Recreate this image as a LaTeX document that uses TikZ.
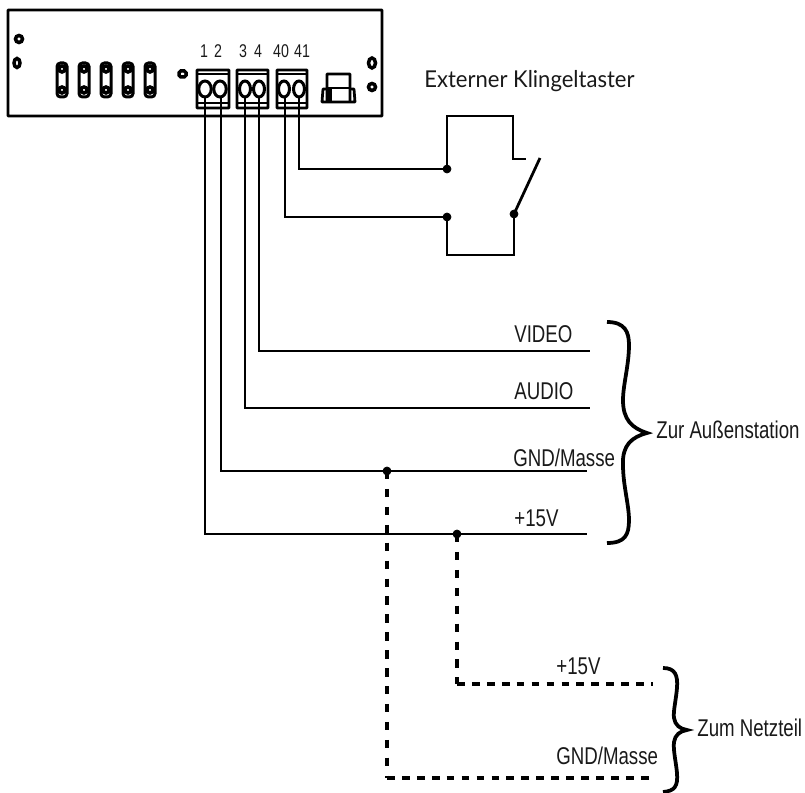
\documentclass[tikz,border=0pt]{standalone}
\usepackage{fontspec}
\setmainfont[FakeStretch=0.77]{Liberation Sans}
\newfontfamily\titlefont[FakeStretch=0.95]{Lato}
\tikzset{
  wire/.style={line width=0.55mm},
  dashup/.style={line width=0.66mm, dash pattern=on 4.8pt off 5.4pt},
  dashacross/.style={line width=0.66mm, dash pattern=on 4.4pt off 4.1pt},
  bracket/.style={line width=0.75mm},
  part/.style={line width=0.55mm, rounded corners=0.3pt},
  label/.style={anchor=base west, inner sep=0pt, font=\fontsize{13.8pt}{13.8pt}\selectfont, text=black!90},
  pin/.style={anchor=base, inner sep=0pt, font=\fontsize{10.5pt}{10.5pt}\selectfont, text=black!90}
}

\begin{document}
\begin{tikzpicture}[x=0.02cm, y=-0.02cm]
\useasboundingbox (0,0) rectangle (805,793);

\coordinate (T1) at (205,97);
\coordinate (T2) at (221,97);
\coordinate (T3) at (245,97);
\coordinate (T4) at (259,97);
\coordinate (T40) at (285,97);
\coordinate (T41) at (299,97);

\coordinate (K1) at (299,169);
\coordinate (K2) at (447,169);
\coordinate (K3) at (285,217);
\coordinate (K4) at (447,217);
\coordinate (K5) at (514,214);
\coordinate (K6) at (540,158);

\coordinate (V1) at (259,351);
\coordinate (V2) at (590,351);
\coordinate (A1) at (245,408);
\coordinate (A2) at (590,408);
\coordinate (G1) at (221,471);
\coordinate (G2) at (587,471);
\coordinate (P1) at (205,534);
\coordinate (P2) at (587,534);

\coordinate (G3) at (387,471);
\coordinate (G4) at (387,778);
\coordinate (G5) at (653,778);
\coordinate (P3) at (457,534);
\coordinate (P4) at (457,684);
\coordinate (P5) at (653,684);

% housing
\draw[part] (8,10) rectangle (382,116);
\draw[line width=0.7mm] (19,39) circle (0.07cm);
\draw[line width=0.7mm] (17,63) ellipse (0.06cm and 0.09cm);
\draw[line width=0.7mm] (372,63) ellipse (0.07cm and 0.1cm);
\draw[line width=0.7mm] (372,87) circle (0.07cm);
\draw[line width=0.7mm, rounded corners=1pt] (179,71) rectangle (186,77);

% fuses
\draw[line width=0.6mm, rounded corners=2pt] (57,63) rectangle (67,97);
\draw[line width=0.6mm, rounded corners=2pt] (79,63) rectangle (89,97);
\draw[line width=0.6mm, rounded corners=2pt] (101,63) rectangle (111,97);
\draw[line width=0.6mm, rounded corners=2pt] (123,63) rectangle (133,97);
\draw[line width=0.6mm, rounded corners=2pt] (145,63) rectangle (155,97);
\draw[line width=0.7mm] (62,69) circle (0.06cm);
\draw[line width=0.7mm] (62,90) circle (0.06cm);
\draw[line width=0.7mm] (84,69) circle (0.06cm);
\draw[line width=0.7mm] (84,90) circle (0.06cm);
\draw[line width=0.7mm] (106,69) circle (0.06cm);
\draw[line width=0.7mm] (106,90) circle (0.06cm);
\draw[line width=0.7mm] (128,69) circle (0.06cm);
\draw[line width=0.7mm] (128,90) circle (0.06cm);
\draw[line width=0.7mm] (150,69) circle (0.06cm);
\draw[line width=0.7mm] (150,90) circle (0.06cm);

% terminals
\draw[part] (197,70) rectangle (229,108);
\draw[part] (197,74) -- (229,74);
\draw[part] (197,103) -- (229,103);
\draw[part] (237,70) rectangle (268,108);
\draw[part] (237,74) -- (268,74);
\draw[part] (237,103) -- (268,103);
\draw[part] (277,70) rectangle (307,108);
\draw[part] (277,74) -- (307,74);
\draw[part] (277,103) -- (307,103);

\draw[line width=0.6mm] (205,89) ellipse (0.125cm and 0.16cm);
\draw[line width=0.6mm] (220,89) ellipse (0.125cm and 0.16cm);
\draw[line width=0.6mm] (245,89) ellipse (0.11cm and 0.16cm);
\draw[line width=0.6mm] (259,89) ellipse (0.11cm and 0.16cm);
\draw[line width=0.6mm] (284,89) ellipse (0.11cm and 0.16cm);
\draw[line width=0.6mm] (299,89) ellipse (0.11cm and 0.16cm);

% plug
\draw[part] (327,102) -- (327,74) -- (350,74) -- (350,102);
\draw[part] (327,88) -- (350,88);
\draw[line width=0.9mm] (330,88) -- (330,102);
\draw[part] (327,89) -- (323,89) -- (322,102) -- (355,102) -- (354,89) -- (350,89);

% wires
\draw[wire] (T41) -- (K1) -- (K2);
\draw[wire] (T40) -- (K3) -- (K4);
\draw[wire] (K2) -- (447,116) -- (513,116) -- (513,159) -- (526,159);
\draw[wire] (K4) -- (447,255) -- (K5 |- 0,255) -- (K5);
\draw[wire] (K5) -- (K6);

\draw[wire] (T4) -- (V1) -- (V2);
\draw[wire] (T3) -- (A1) -- (A2);
\draw[wire] (T2) -- (G1) -- (G2);
\draw[wire] (T1) -- (P1) -- (P2);

\draw[dashup] (G3) -- (G4);
\draw[dashacross] (G4) -- (G5);
\draw[dashup] (P3) -- (P4);
\draw[dashacross] (P4) -- (P5);

\filldraw (K2) circle (0.08cm);
\filldraw (K4) circle (0.08cm);
\filldraw (K5) circle (0.08cm);
\filldraw (G3) circle (0.08cm);
\filldraw (P3) circle (0.08cm);

% braces
\draw[bracket] (607,322) .. controls (625,322) and (629,332) .. (629,345)
  .. controls (629,365) and (623,385) .. (623,400)
  .. controls (623,420) and (632,428) .. (647,433)
  .. controls (632,437) and (622,445) .. (623,465)
  .. controls (623,485) and (629,505) .. (629,520)
  .. controls (629,535) and (625,543) .. (607,543);
\draw[bracket] (663,668) .. controls (675,668) and (678,675) .. (677,688)
  .. controls (676,700) and (673,712) .. (674,718)
  .. controls (675,725) and (680,729) .. (687,730)
  .. controls (680,731) and (675,735) .. (674,742)
  .. controls (673,750) and (676,762) .. (677,773)
  .. controls (678,786) and (675,791) .. (663,792);

% labels
\node[pin] (n1) at (204,58) {1};
\node[pin] (n2) at (218,58) {2};
\node[pin] (n3) at (243,58) {3};
\node[pin] (n4) at (258,58) {4};
\node[pin] (n40) at (281,58) {40};
\node[pin] (n41) at (302,58) {41};

\node[label, font=\titlefont\fontsize{13.2pt}{13.2pt}\selectfont] (klingel) at (424,88) {Externer Klingeltaster};
\node[label] (video) at (514,343) {VIDEO};
\node[label] (audio) at (514,400) {AUDIO};
\node[label] (gnd) at (513,467) {GND/Masse};
\node[label] (plus) at (514,527) {+15V};
\node[label] (aussen) at (656,439) {Zur Außenstation};
\node[label] (plusb) at (556,675) {+15V};
\node[label] (gndb) at (556,765) {GND/Masse};
\node[label] (netz) at (697,737) {Zum Netzteil};

\end{tikzpicture}
\end{document}
